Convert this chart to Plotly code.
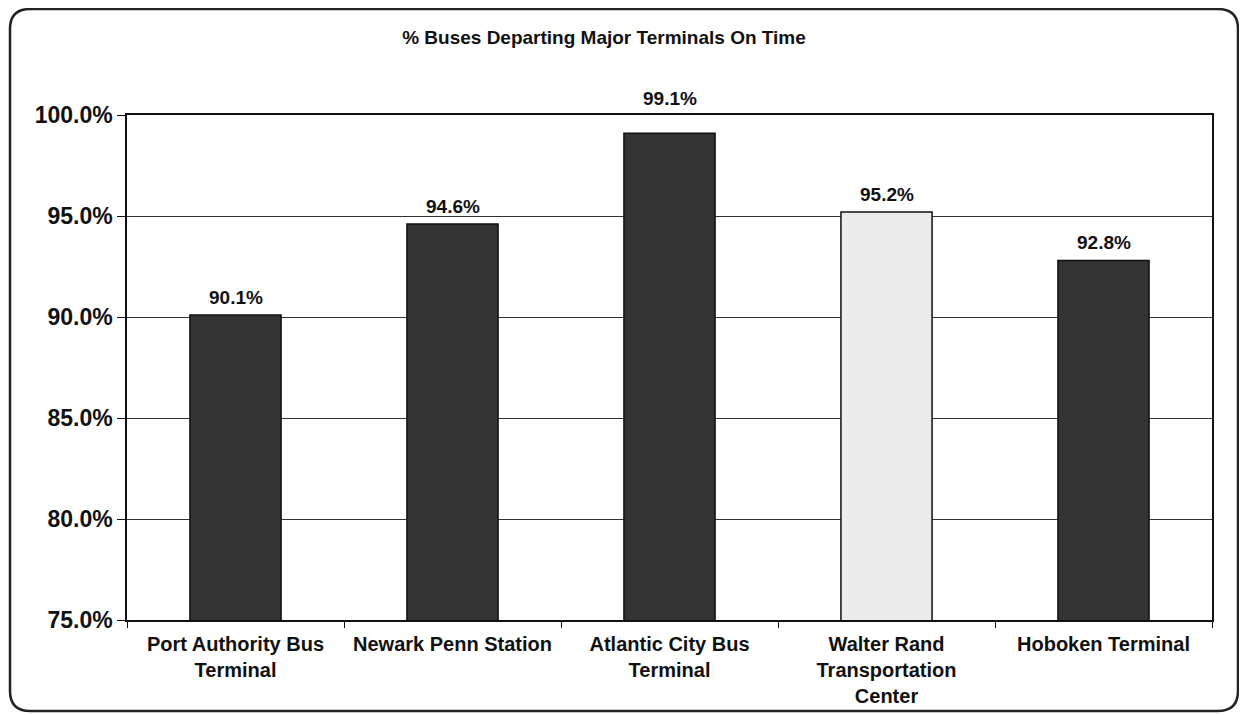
import plotly.graph_objects as go

categories = ["Port Authority Bus<br>Terminal", "Newark Penn Station", "Atlantic City Bus<br>Terminal",
              "Walter Rand<br>Transportation<br>Center", "Hoboken Terminal"]
values = [90.1, 94.6, 99.1, 95.2, 92.8]
bar_colors = ["#333333", "#333333", "#333333", "#ebebeb", "#333333"]
y_ticks = [75, 80, 85, 90, 95, 100]
y_tick_labels = ["75.0%", "80.0%", "85.0%", "90.0%", "95.0%", "100.0%"]

FONT = "Liberation Sans, Arial, sans-serif"

fig = go.Figure(go.Bar(
    x=categories, y=values,
    marker=dict(color=bar_colors, line=dict(color="#111111", width=1.5)),
    width=0.42,
    hoverinfo="x+y",
))

# value labels; a label that would collide with the plot frame is lifted above it
for c, v in zip(categories, values):
    fig.add_annotation(
        x=c, y=v, xref="x", yref="y", text=f"<b>{v:.1f}%</b>",
        showarrow=False, yanchor="bottom", yshift=22 if v > 98 else 5,
        font=dict(family=FONT, size=19, color="#111111"),
    )

# page body has an 8px margin; figure is sized and offset to compensate
OFF = 8
W, H = 1247 - OFF, 715 - OFF
L, T = 127 - OFF, 115 - OFF
R, B = 35, 95
pw, ph = W - L - R, H - T - B

def px(x):
    return (x - OFF - L) / pw

def py(y):
    return (H - B - (y - OFF)) / ph

x0, x1, y0, y1 = px(10), px(1238), py(711), py(9)
rx, ry = 20 / pw, 20 / ph
path = (f"M {x0+rx} {y1} L {x1-rx} {y1} Q {x1} {y1} {x1} {y1-ry} "
        f"L {x1} {y0+ry} Q {x1} {y0} {x1-rx} {y0} L {x0+rx} {y0} "
        f"Q {x0} {y0} {x0} {y0+ry} L {x0} {y1-ry} Q {x0} {y1} {x0+rx} {y1} Z")

fig.update_layout(
    width=W, height=H,
    margin=dict(l=L, r=R, t=T, b=B, autoexpand=False),
    paper_bgcolor="white", plot_bgcolor="white",
    font=dict(family=FONT, color="#111111"),
    showlegend=False,
    title=dict(text="<b>% Buses Departing Major Terminals On Time</b>",
               x=px(604), xref="paper", xanchor="center",
               y=1 - (37 - OFF) / H, yref="container", yanchor="middle",
               font=dict(family=FONT, size=19, color="#111111")),
    shapes=[dict(type="path", path=path, xref="paper", yref="paper",
                 line=dict(color="#222222", width=2.5), layer="below")],
)
fig.update_xaxes(
    showline=True, linecolor="#111111", linewidth=1.5, mirror=True,
    ticks="outside", tickson="boundaries", ticklen=6, tickcolor="#111111",
    tickvals=categories, ticktext=[f"<b>{c}</b>" for c in categories],
    tickfont=dict(family=FONT, size=20, color="#111111"),
    ticklabelstandoff=5, automargin=False,
    showgrid=False,
)
fig.update_yaxes(
    range=[75, 100], tickvals=y_ticks, ticktext=[f"<b>{t}</b>" for t in y_tick_labels],
    showline=True, linecolor="#111111", linewidth=1.5, mirror=True,
    ticks="outside", ticklen=8, tickcolor="#111111",
    tickfont=dict(family=FONT, size=23, color="#111111"),
    automargin=False,
    showgrid=True, gridcolor="#333333", gridwidth=1.2,
)

fig.write_html("out.html")
